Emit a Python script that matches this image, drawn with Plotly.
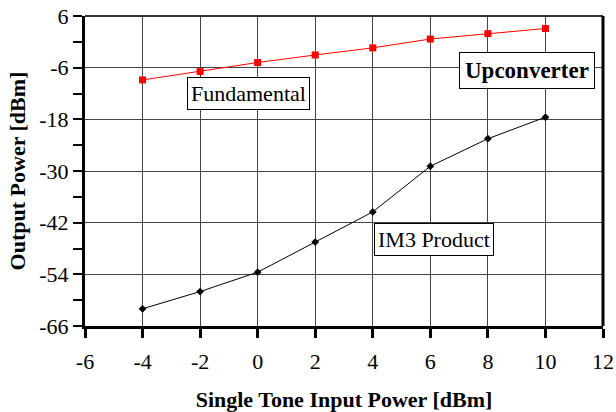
import plotly.graph_objects as go

x_input = [-4, -2, 0, 2, 4, 6, 8, 10]
fundamental = [-8.85, -6.9, -4.8, -3.05, -1.4, 0.65, 1.9, 3.1]
im3 = [-62.0, -58.0, -53.5, -46.5, -39.5, -28.9, -22.5, -17.5]

x_ticks = [-6, -4, -2, 0, 2, 4, 6, 8, 10, 12]
y_ticks = [6, -6, -18, -30, -42, -54, -66]

FONT = "Liberation Serif, Times New Roman, serif"
FS = 22

fig = go.Figure()
fig.add_trace(go.Scatter(x=x_input, y=fundamental, mode="lines+markers",
                         line=dict(color="#ff0000", width=1),
                         marker=dict(symbol="square", size=7, color="#ff0000"),
                         showlegend=False))
fig.add_trace(go.Scatter(x=x_input, y=im3, mode="lines+markers",
                         line=dict(color="#000000", width=1),
                         marker=dict(symbol="diamond", size=6, color="#000000"),
                         showlegend=False))

fig.update_layout(
    width=616, height=412,
    margin=dict(l=85, r=13, t=16, b=86, autoexpand=False),
    paper_bgcolor="white", plot_bgcolor="white",
    font=dict(family=FONT, color="black", size=FS),
    xaxis=dict(range=[-6, 12], tickvals=x_ticks,
               ticktext=[str(v) for v in x_ticks], showgrid=True,
               gridcolor="#444444", gridwidth=1, zeroline=False,
               showline=True, linecolor="black", linewidth=3,
               ticks="outside", ticklen=9, tickwidth=3, tickcolor="black",
               ticklabelstandoff=5,
               tickfont=dict(size=FS, family=FONT),
               title=dict(text="<b>Single Tone Input Power [dBm]</b>",
                          font=dict(size=FS, family=FONT), standoff=22)),
    yaxis=dict(range=[-66, 6], tickvals=y_ticks,
               ticktext=[str(v) for v in y_ticks], showgrid=True,
               gridcolor="#444444", gridwidth=1, zeroline=False,
               showline=True, linecolor="black", linewidth=3,
               ticks="outside", ticklen=9, tickwidth=2, tickcolor="black",
               minor=dict(dtick=6, tick0=0, ticks="outside", ticklen=9,
                          tickwidth=2, tickcolor="black", showgrid=False),
               tickfont=dict(size=FS, family=FONT),
               title=dict(text="<b>Output Power [dBm]</b>",
                          font=dict(size=FS, family=FONT), standoff=8)),
    shapes=[
        dict(type="line", xref="paper", yref="paper", x0=0, x1=1, y0=1, y1=1,
             line=dict(color="#333333", width=2)),
        dict(type="line", xref="paper", yref="paper", x0=1, x1=1, y0=0, y1=1,
             line=dict(color="black", width=3)),
    ],
    annotations=[
        dict(x=-0.33, y=-12.0, xref="x", yref="y", text="Fundamental",
             showarrow=False, bgcolor="white", bordercolor="black",
             borderwidth=1, borderpad=3, font=dict(size=FS, family=FONT)),
        dict(x=9.36, y=-6.6, xref="x", yref="y", text="<b>Upconverter</b>",
             showarrow=False, bgcolor="white", bordercolor="black",
             borderwidth=1, borderpad=5, font=dict(size=23, family=FONT)),
        dict(x=6.13, y=-45.9, xref="x", yref="y", text="IM3 Product",
             showarrow=False, bgcolor="white", bordercolor="black",
             borderwidth=1, borderpad=3, font=dict(size=FS, family=FONT)),
    ],
)

fig.write_html("out.html")
